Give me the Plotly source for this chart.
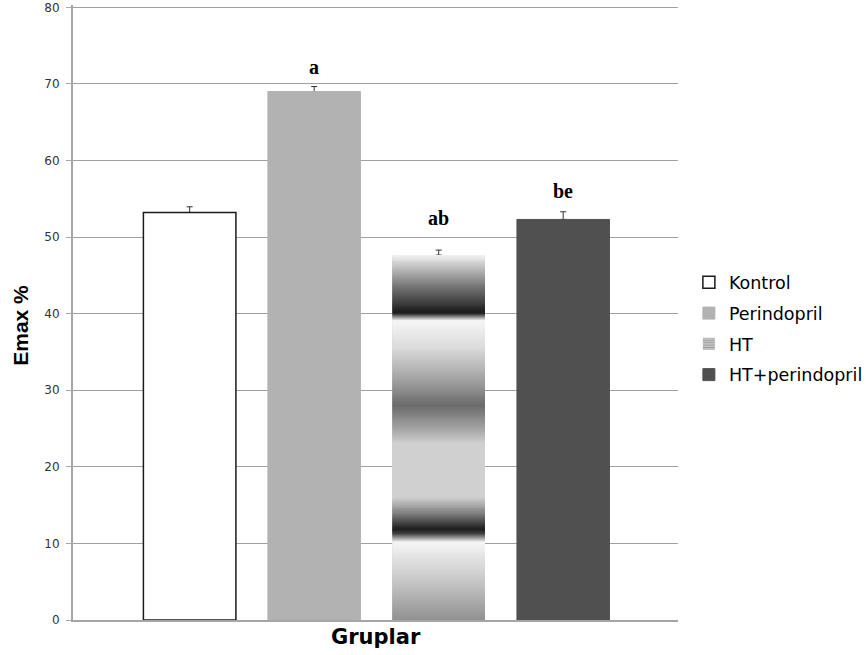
import numpy as np
import plotly.graph_objects as go

# Group means (Emax %) and their standard errors
groups = ["Kontrol", "Perindopril", "HT", "HT+perindopril"]
emax = [53.2, 69.0, 47.65, 52.3]
sem = [0.75, 0.65, 0.65, 1.0]
sig_labels = ["", "a", "ab", "be"]
y_ticks = [0, 10, 20, 30, 40, 50, 60, 70, 80]

bar_fill = ["#ffffff", "#b2b2b2", "#ffffff", "#505050"]
bar_edge = ["#1a1a1a", "#b2b2b2", "#d0d0d0", "#505050"]
label_gap = [0, 7, 19, 8]

BAR_W = 0.743
pos = list(range(len(groups)))

# Gray gradient stops for the HT bar: (fraction of bar height, gray level)
ht_stops = [
    (0.000, 144), (0.110, 200), (0.2145, 245), (0.238, 58), (0.252, 30),
    (0.293, 128), (0.338, 208), (0.485, 208), (0.529, 160), (0.589, 107),
    (0.657, 160), (0.749, 220), (0.822, 245), (0.8412, 35), (0.845, 28),
    (0.877, 70), (0.932, 140), (1.000, 240),
]

fig = go.Figure()

# Error bars first so the bars cover their lower caps
fig.add_trace(go.Bar(
    x=pos, y=emax, width=BAR_W, showlegend=False, hoverinfo="skip",
    marker=dict(color="rgba(0,0,0,0)", line=dict(width=0)),
    error_y=dict(type="data", symmetric=False, array=sem,
                 arrayminus=[0] * len(sem), color="#333333",
                 thickness=1, width=3),
))

for i, g in enumerate(groups):
    marker = dict(color=bar_fill[i], line=dict(color=bar_edge[i], width=1.5 if i == 0 else 1))
    if g == "HT":
        marker["line"] = dict(color="#ffffff", width=0)
        marker["pattern"] = dict(shape="-", fgcolor="#3c3c3c", bgcolor="#ffffff",
                                 size=3, solidity=0.75)
    fig.add_trace(go.Bar(
        x=[pos[i]], y=[emax[i]], width=BAR_W, name=g, legendgroup=g,
        marker=marker, hoverinfo="skip",
    ))

# HT bar gradient, built as thin stacked slices over the HT bar
ht_i = groups.index("HT")
ht_val = emax[ht_i]
step = 0.125
edges = np.arange(0.0, ht_val, step)
tops = np.minimum(edges + step, ht_val)
mids = (edges + tops) / 2 / ht_val
fr = [s[0] for s in ht_stops]
gv = [s[1] for s in ht_stops]
levels = np.interp(mids, fr, gv).round().astype(int)
colors = [f"rgb({v},{v},{v})" for v in levels]
fig.add_trace(go.Bar(
    x=[pos[ht_i]] * len(edges), base=edges, y=tops - edges, width=BAR_W,
    marker=dict(color=colors, line=dict(width=0)),
    showlegend=False, hoverinfo="skip",
))

# Significance letters above the error bars
for i, lab in enumerate(sig_labels):
    if lab:
        fig.add_annotation(
            x=pos[i], y=emax[i] + sem[i], text=f"<b>{lab}</b>",
            showarrow=False, yanchor="bottom", yshift=label_gap[i],
            font=dict(family="Liberation Serif", size=20, color="#000000"),
        )

fig.add_annotation(
    xref="paper", yref="paper", x=-0.086, y=0.48, text="<b>Emax %</b>",
    textangle=-90, showarrow=False, xanchor="center", yanchor="middle",
    font=dict(family="Liberation Sans Narrow, Liberation Sans", size=21, color="#000000"),
)
fig.add_annotation(
    xref="paper", yref="paper", x=0.5, y=-0.027, text="<b>Gruplar</b>",
    showarrow=False, xanchor="center", yanchor="middle",
    font=dict(family="DejaVu Sans", size=21, color="#000000"),
)

fig.update_layout(
    width=866, height=655,
    margin=dict(l=73, r=188, t=5, b=35, autoexpand=False),
    paper_bgcolor="#ffffff", plot_bgcolor="#ffffff",
    barmode="overlay",
    showlegend=True,
    legend=dict(
        x=1.018, y=0.474, xanchor="left", yanchor="middle",
        traceorder="grouped", tracegroupgap=5,
        font=dict(family="DejaVu Sans", size=17.5, color="#000000"),
        bgcolor="rgba(0,0,0,0)",
    ),
    xaxis=dict(
        range=[-0.937, 3.922], showgrid=False, zeroline=False,
        showticklabels=False, ticks="", showline=True, automargin=False,
        linecolor="#a6a6a6", linewidth=1.5,
    ),
    yaxis=dict(
        range=[0, 80.3], tickvals=y_ticks, showgrid=True, gridcolor="#a0a0a0",
        gridwidth=1, zeroline=False, showline=True, linecolor="#a6a6a6",
        linewidth=2, ticks="outside", ticklen=5, tickcolor="#a6a6a6",
        tickfont=dict(family="DejaVu Sans", size=12, color="#333333"),
        ticklabelstandoff=4, ticklabeloverflow="allow", automargin=False,
    ),
)

fig.write_html("out.html")
